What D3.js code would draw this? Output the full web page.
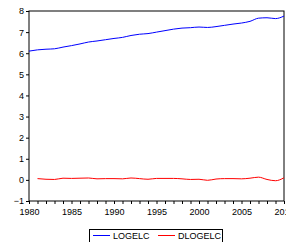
<!DOCTYPE html>
<html>
<head>
<meta charset="utf-8">
<script src="https://cdn.jsdelivr.net/npm/d3@7"></script>
<style>
  body { margin: 0; background: #fff; }
  svg { display: block; font-family: "Liberation Sans", Arial, sans-serif; }
  .axis text { font-size: 9px; fill: #000; }
</style>
</head>
<body>
<div class="chart"></div>
<script>
// data
const years = d3.range(1980, 2011);
const logelc = [6.10, 6.16, 6.19, 6.21, 6.29, 6.36, 6.44, 6.53, 6.58, 6.64,
  6.70, 6.75, 6.84, 6.90, 6.93, 7.00, 7.07, 7.14, 7.19, 7.21,
  7.24, 7.22, 7.26, 7.32, 7.38, 7.43, 7.51, 7.66, 7.68, 7.64, 7.76];
const dlogelc = [null, 0.06, 0.03, 0.02, 0.08, 0.07, 0.08, 0.09, 0.05, 0.06,
  0.06, 0.05, 0.09, 0.06, 0.03, 0.07, 0.07, 0.07, 0.05, 0.02,
  0.03, -0.02, 0.04, 0.06, 0.06, 0.05, 0.08, 0.13, 0.02, -0.04, 0.10];
const yTicks = [-1, 0, 1, 2, 3, 4, 5, 6, 7, 8];
const xLabels = [1980, 1985, 1990, 1995, 2000, 2005, 2010];
const seriesNames = ["LOGELC", "DLOGELC"];
const colors = ["#0000ff", "#ff0000"];

const width = 286, height = 242;
const margin = { top: 11, right: 2, bottom: 41, left: 29 };

const svg = d3.select('.chart')
  .append('svg')
  .attr('width', width)
  .attr('height', height);

const x = d3.scaleLinear()
  .domain([1980, 2010])
  .range([margin.left, width - margin.right]);

const y = d3.scaleLinear()
  .domain([-1, 8])
  .range([height - margin.bottom, margin.top]);

// frame
svg.append('rect')
  .attr('x', margin.left)
  .attr('y', margin.top)
  .attr('width', width - margin.right - margin.left)
  .attr('height', height - margin.bottom - margin.top)
  .attr('fill', 'none')
  .attr('stroke', '#000')
  .attr('stroke-width', 1);

// axes
svg.append('g')
  .attr('class', 'axis')
  .attr('transform', `translate(0,${height - margin.bottom})`)
  .call(d3.axisBottom(x).tickValues(years).tickSize(3).tickSizeOuter(0)
    .tickFormat(d => xLabels.includes(d) ? d : ''))
  .call(g => g.select('.domain').remove())
  .call(g => g.selectAll('text').attr('dy', '0.85em'));

svg.append('g')
  .attr('class', 'axis')
  .attr('transform', `translate(${margin.left},0)`)
  .call(d3.axisLeft(y).tickValues(yTicks).tickSize(3).tickSizeOuter(0).tickPadding(2))
  .call(g => g.select('.domain').remove());

// lines
const line = d3.line()
  .defined(d => d[1] != null)
  .x(d => x(d[0]))
  .y(d => y(d[1]))
  .curve(d3.curveMonotoneX);

[logelc, dlogelc].forEach((vals, i) => {
  svg.append('path')
    .datum(years.map((yr, j) => [yr, vals[j]]))
    .attr('fill', 'none')
    .attr('stroke', colors[i])
    .attr('stroke-width', 1)
    .attr('d', line);
});

// legend
const legend = svg.append('g');
legend.append('rect')
  .attr('x', 89.5).attr('y', 229.5)
  .attr('width', 133).attr('height', 16)
  .attr('fill', '#fff').attr('stroke', '#000');

const items = [{ x0: 93, tx: 113 }, { x0: 158, tx: 178 }];
items.forEach((it, i) => {
  legend.append('line')
    .attr('x1', it.x0).attr('x2', it.x0 + 17)
    .attr('y1', 235.5).attr('y2', 235.5)
    .attr('stroke', colors[i]);
  legend.append('text')
    .attr('x', it.tx).attr('y', 238.5)
    .attr('font-size', 9)
    .text(seriesNames[i]);
});
</script>
</body>
</html>
